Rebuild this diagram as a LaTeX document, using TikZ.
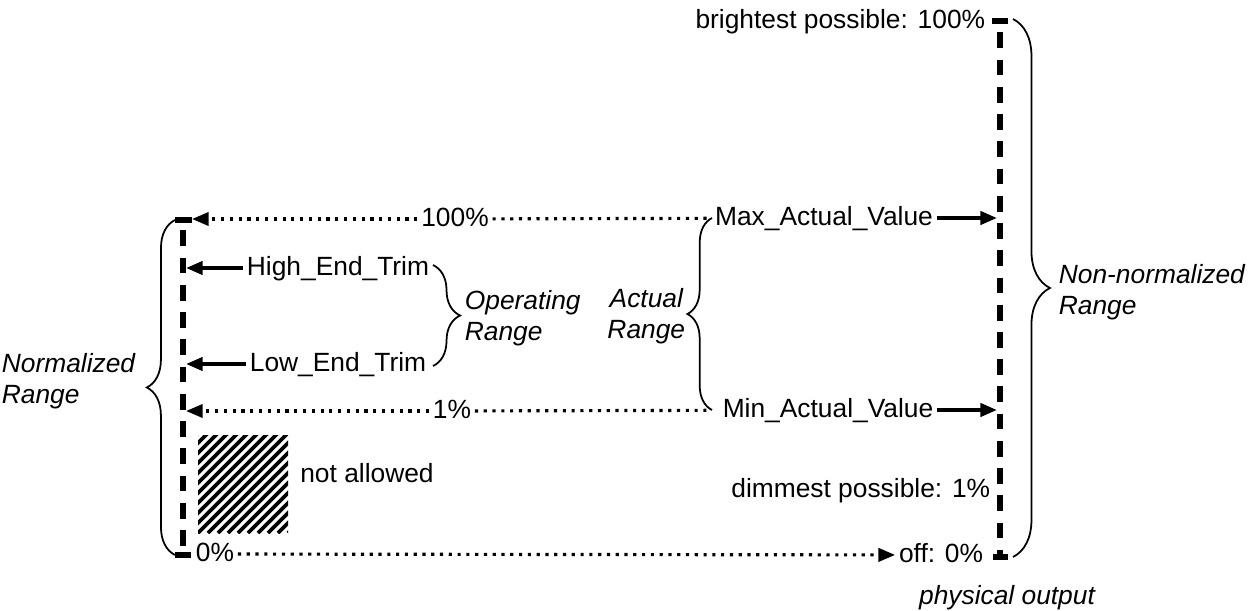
\documentclass[tikz,border=0pt]{standalone}
\usepackage{fontspec}
\setmainfont{Liberation Sans}
\usepackage{tikz}
\usetikzlibrary{arrows.meta,positioning,decorations.pathreplacing}
\tikzset{
  lbl/.style={font=\fontsize{15}{18}\selectfont, inner sep=2pt, text height=11pt, text depth=3pt},
  itl/.style={font=\fontsize{15}{18}\selectfont\itshape, inner sep=2pt, align=left},
  axisline/.style={line width=3.2pt, dash pattern=on 9pt off 6.5pt, dash phase=9pt},
  tickbar/.style={line width=3.8pt},
  solidarrow/.style={line width=2.1pt, -{Triangle[length=9.5pt,width=7.5pt]}},
  dotline/.style={line width=1.8pt, dash pattern=on 1.8pt off 3.2pt},
  dotarrow/.style={dotline, -{Triangle[length=9.5pt,width=7.5pt]}},
  rngbrace/.style={decorate, decoration={brace, amplitude=#1}, line width=1pt}
}
\begin{document}
\begin{tikzpicture}[x=0.02cm,y=-0.02cm]
\useasboundingbox (0,0) rectangle (1260,611);
%%%%% normalized axis (left):
\coordinate (ntop) at (183,219);
\coordinate (nbot) at (183,555);
\draw[axisline] (ntop) -- (nbot);
\draw[tickbar] (175,220) -- (192,220);
\draw[tickbar] (175,555) -- (191,555);
\coordinate (nmax)  at (192,219);
\coordinate (nhigh) at (186,268);
\coordinate (nlow)  at (186,364);
\coordinate (nmin)  at (186,411);
%%%%% physical axis (right):
\coordinate (ptop) at (1000,21);
\coordinate (pbot) at (1000,557);
\draw[axisline] (ptop) -- (pbot);
\draw[tickbar] (992,21) -- (1008,21);
\draw[tickbar] (993,557) -- (1008,557);
\coordinate (pmax) at (997,218);
\coordinate (pmin) at (997,410);
%%%%% labels:
\node[lbl] (pct100) at (455,219) {100\%};
\node[lbl] (maxv)   at (824,218) {Max\_Actual\_Value};
\node[lbl] (high)   at (338,268) {High\_End\_Trim};
\node[lbl] (low)    at (338,364) {Low\_End\_Trim};
\node[lbl] (pct1)   at (452,411) {1\%};
\node[lbl] (minv)   at (828,410) {Min\_Actual\_Value};
\node[lbl] (pct0)   at (215,554) {0\%};
\node[lbl] (off)    at (941,555) {off: 0\%};
\node[lbl,anchor=east] (bright) at (989,21)  {brightest possible: 100\%};
\node[lbl,anchor=east] (dim)    at (994,490) {dimmest possible: 1\%};
\node[lbl] (notok) at (367,475) {not allowed};
\node[itl,anchor=west] (oper)    at (461,318) {Operating\\Range};
\node[itl,anchor=east,align=center] (actual) at (689,316) {Actual\\Range};
\node[itl,anchor=west] (norm)    at (-2,381)   {Normalized\\Range};
\node[itl,anchor=west] (nonnorm) at (1055,292) {Non-normalized\\Range};
\node[itl] (phys) at (1007,598) {physical output};
%%%%% connectors:
\draw[dotarrow] (pct100) -- (nmax);
\draw[dotline] (pct100) -- (maxv);
\draw[solidarrow] (maxv) -- (pmax);
\draw[solidarrow] (high) -- (nhigh);
\draw[solidarrow] (low) -- (nlow);
\draw[dotarrow] (pct1) -- (nmin);
\draw[dotline,shorten >=6pt] (pct1) -- (minv);
\draw[solidarrow] (minv) -- (pmin);
\draw[dotarrow] (pct0) -- (off);
%%%%% braces:
\draw[rngbrace=16pt]   (175,555) -- (175,220);
\draw[rngbrace=15.4pt] (433,265) -- (433,366);
\draw[rngbrace=14pt]   (712,410) -- (712,218);
\draw[rngbrace=21pt]   (1013,19) -- (1013,557);
%%%%% not allowed area:
\begin{scope}
\clip (198,435) rectangle (288,533);
\foreach \k in {-100,-90,...,90}{
  \draw[line width=2.2pt] (198+\k,533) -- ++(100,-100);
}
\end{scope}
\end{tikzpicture}
\end{document}
